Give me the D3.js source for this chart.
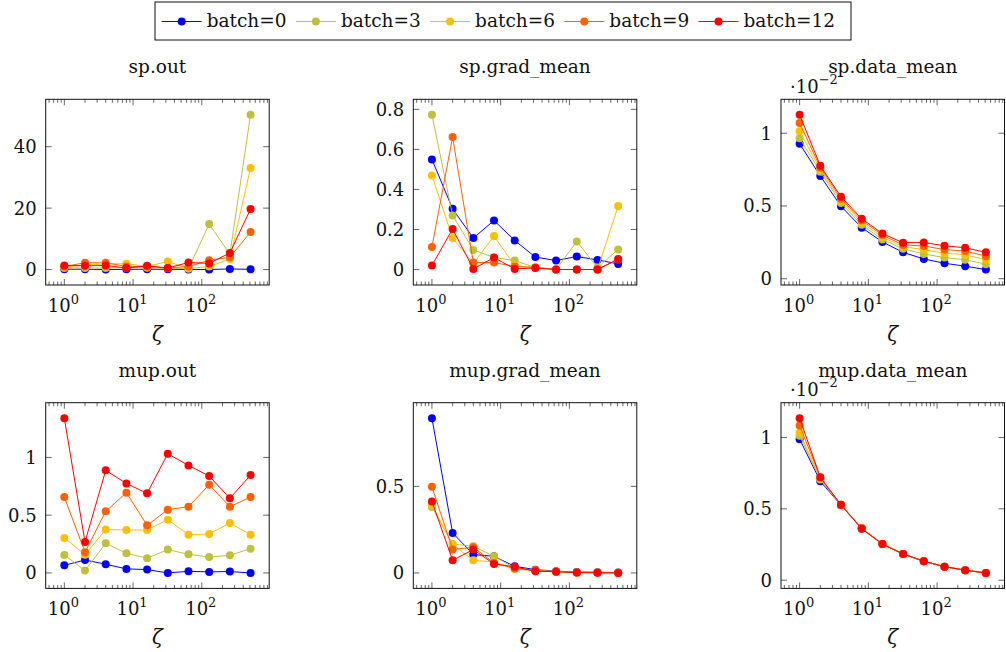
<!DOCTYPE html>
<html>
<head>
<meta charset="utf-8">
<script src="https://cdn.jsdelivr.net/npm/d3@7"></script>
<style>
  body { margin: 0; background: #fff; }
  svg text { font-family: "DejaVu Serif", "Liberation Serif", serif; fill: #111; }
</style>
</head>
<body>
<div id="chart"></div>
<script>
// x values shared by every panel
const ZETA = [1, 2, 4, 8, 16, 32, 64, 128, 256, 512];
const BATCHES = ['batch=0', 'batch=3', 'batch=6', 'batch=9', 'batch=12'];
const COLORS = ['#0000ff', '#bfbf40', '#ffbf00', '#ff6000', '#ff0000'];

// one row per batch (0, 3, 6, 9, 12)
const spOut = [
    [0.1, 0.1, 0, 0.05, 0.1, 0.05, 0, 0, 0.2, 0.05],
    [0.5, 0.5, 0.5, 0.6, 0.6, 0.4, 0.3, 14.8, 5.0, 50.4],
    [0.8, 1.5, 1.8, 1.9, 1.0, 2.6, 0.3, 1.0, 3.4, 33.1],
    [1.0, 2.2, 2.2, 1.0, 1.0, 0.5, 1.0, 3.0, 4.0, 12.2],
    [1.3, 1.2, 1.3, 0.5, 1.2, 0.5, 2.3, 2.0, 5.4, 19.7]
];
const spGrad = [
    [0.55, 0.303, 0.157, 0.245, 0.145, 0.062, 0.045, 0.065, 0.048, 0.028],
    [0.773, 0.27, 0.098, 0.06, 0.045, 0.01, 0.0, 0.14, 0.01, 0.1],
    [0.47, 0.157, 0.03, 0.167, 0.02, 0.01, 0.0, 0.0, 0.0, 0.317],
    [0.112, 0.662, 0.035, 0.035, 0.015, 0.01, 0.0, 0.0, 0.0, 0.05],
    [0.02, 0.203, 0.003, 0.06, 0.003, 0.008, 0.0, 0.0, 0.0, 0.053]
];
const spData = [
    [0.928, 0.706, 0.498, 0.351, 0.253, 0.181, 0.136, 0.106, 0.086, 0.063],
    [0.966, 0.735, 0.52, 0.37, 0.27, 0.205, 0.17, 0.145, 0.13, 0.1],
    [1.013, 0.75, 0.535, 0.385, 0.285, 0.22, 0.2, 0.175, 0.165, 0.13],
    [1.07, 0.765, 0.55, 0.4, 0.3, 0.232, 0.225, 0.2, 0.19, 0.155],
    [1.127, 0.776, 0.563, 0.412, 0.31, 0.247, 0.249, 0.226, 0.213, 0.181]
];
const mupOut = [
    [0.066, 0.112, 0.075, 0.035, 0.029, 0.0, 0.014, 0.009, 0.012, 0.0],
    [0.156, 0.02, 0.256, 0.17, 0.127, 0.202, 0.161, 0.138, 0.153, 0.21],
    [0.303, 0.158, 0.375, 0.372, 0.372, 0.461, 0.331, 0.337, 0.432, 0.331],
    [0.657, 0.18, 0.533, 0.695, 0.412, 0.548, 0.573, 0.764, 0.573, 0.657],
    [1.34, 0.268, 0.888, 0.775, 0.689, 1.032, 0.931, 0.839, 0.646, 0.847]
];
const mupGrad = [
    [0.894, 0.231, 0.106, 0.096, 0.038, 0.019, 0.01, 0.005, 0.004, 0.002],
    [0.381, 0.167, 0.154, 0.096, 0.029, 0.015, 0.008, 0.003, 0.002, 0.001],
    [0.394, 0.163, 0.073, 0.063, 0.023, 0.012, 0.006, 0.002, 0.001, 0.0],
    [0.498, 0.135, 0.148, 0.058, 0.025, 0.015, 0.008, 0.003, 0.002, 0.001],
    [0.413, 0.073, 0.135, 0.052, 0.035, 0.01, 0.007, 0.002, 0.001, 0.0]
];
const mupData = [
    [0.988, 0.693, 0.525, 0.362, 0.253, 0.184, 0.133, 0.095, 0.07, 0.051],
    [1.012, 0.705, 0.526, 0.363, 0.253, 0.184, 0.133, 0.095, 0.07, 0.051],
    [1.033, 0.712, 0.527, 0.364, 0.253, 0.184, 0.133, 0.095, 0.07, 0.051],
    [1.084, 0.72, 0.528, 0.365, 0.253, 0.184, 0.133, 0.095, 0.07, 0.051],
    [1.135, 0.721, 0.528, 0.36, 0.253, 0.184, 0.133, 0.095, 0.07, 0.051]
];

const TITLES = ['sp.out', 'sp.grad_mean', 'sp.data_mean', 'mup.out', 'mup.grad_mean', 'mup.data_mean'];
const Y_TICKS = [
    [0, 20, 40],
    [0, 0.2, 0.4, 0.6, 0.8],
    [0, 0.5, 1],
    [0, 0.5, 1],
    [0, 0.5],
    [0, 0.5, 1]
];
const X_TICKS = [1, 10, 100];

const panels = [
    { title: TITLES[0], data: spOut, ticks: Y_TICKS[0], scaled: false },
    { title: TITLES[1], data: spGrad, ticks: Y_TICKS[1], scaled: false },
    { title: TITLES[2], data: spData, ticks: Y_TICKS[2], scaled: true },
    { title: TITLES[3], data: mupOut, ticks: Y_TICKS[3], scaled: false },
    { title: TITLES[4], data: mupGrad, ticks: Y_TICKS[4], scaled: false },
    { title: TITLES[5], data: mupData, ticks: Y_TICKS[5], scaled: true }
];

const svg = d3.select('#chart').append('svg')
    .attr('width', 1006)
    .attr('height', 652);

const colLeft = [45.7, 413.3, 781];
const rowTop = [99.3, 402.7];
const W = 223.5, H = 185.7;
const MAJOR = 6, MINOR = 3.5;

// log x with pgfplots style 10% enlargement (in log space)
const lx = d3.extent(ZETA, d => Math.log10(d));
const lpad = (lx[1] - lx[0]) * 0.1;
const x = d3.scaleLog()
    .domain([Math.pow(10, lx[0] - lpad), Math.pow(10, lx[1] + lpad)])
    .range([0, W]);

const minorX = [];
for (let k = -1; k <= 2; k++) {
    for (let m = 2; m <= 9; m++) {
        let v = m * Math.pow(10, k);
        if (v >= x.domain()[0] && v <= x.domain()[1]) minorX.push(v);
    }
}

panels.forEach((p, i) => {
    let left = colLeft[i % 3];
    let top = rowTop[Math.floor(i / 3)];
    let g = svg.append('g').attr('transform', `translate(${left},${top})`);

    let all = p.data.flat();
    let ext = d3.extent(all);
    let pad = (ext[1] - ext[0]) * 0.1;
    let y = d3.scaleLinear().domain([ext[0] - pad, ext[1] + pad]).range([H, 0]);

    // ticks (inside, all four sides)
    let tickG = g.append('g').attr('stroke', '#555').attr('stroke-width', 0.9);
    minorX.forEach(v => {
        tickG.append('line').attr('x1', x(v)).attr('x2', x(v)).attr('y1', H).attr('y2', H - MINOR);
        tickG.append('line').attr('x1', x(v)).attr('x2', x(v)).attr('y1', 0).attr('y2', MINOR);
    });
    X_TICKS.forEach(v => {
        tickG.append('line').attr('x1', x(v)).attr('x2', x(v)).attr('y1', H).attr('y2', H - MAJOR);
        tickG.append('line').attr('x1', x(v)).attr('x2', x(v)).attr('y1', 0).attr('y2', MAJOR);
    });
    p.ticks.forEach(v => {
        tickG.append('line').attr('x1', 0).attr('x2', MAJOR).attr('y1', y(v)).attr('y2', y(v));
        tickG.append('line').attr('x1', W).attr('x2', W - MAJOR).attr('y1', y(v)).attr('y2', y(v));
    });

    // series
    let line = d3.line().x((d, j) => x(ZETA[j])).y(d => y(d));
    p.data.forEach((series, s) => {
        g.append('path')
            .datum(series)
            .attr('d', line)
            .attr('fill', 'none')
            .attr('stroke', COLORS[s])
            .attr('stroke-width', 1);
        g.selectAll('.dot-' + s)
            .data(series)
            .enter().append('circle')
            .attr('class', 'dot-' + s)
            .attr('cx', (d, j) => x(ZETA[j]))
            .attr('cy', d => y(d))
            .attr('r', 4)
            .attr('fill', COLORS[s]);
    });

    // frame
    g.append('rect')
        .attr('width', W).attr('height', H)
        .attr('fill', 'none').attr('stroke', '#111').attr('stroke-width', 1);

    // y tick labels
    p.ticks.forEach(v => {
        g.append('text')
            .attr('x', -9).attr('y', y(v)).attr('dy', '0.36em')
            .attr('text-anchor', 'end')
            .attr('font-size', 18)
            .text(d3.format('~g')(v));
    });

    // x tick labels 10^k
    X_TICKS.forEach(v => {
        let t = g.append('text')
            .attr('x', x(v) - 1).attr('y', H + 26.7)
            .attr('text-anchor', 'middle')
            .attr('font-size', 18);
        t.append('tspan').text('10');
        t.append('tspan').attr('font-size', 13).attr('dy', -8).text(Math.round(Math.log10(v)));
    });

    // title and x label
    g.append('text')
        .attr('x', W / 2).attr('y', -26)
        .attr('text-anchor', 'middle')
        .attr('font-size', 18.5)
        .text(p.title);
    g.append('text')
        .attr('x', W / 2).attr('y', H + 56)
        .attr('text-anchor', 'middle')
        .attr('font-size', 20)
        .attr('font-style', 'italic')
        .text('ζ');

    if (p.scaled) {
        let t = g.append('text')
            .attr('x', 9).attr('y', -6.6)
            .attr('font-size', 18);
        t.append('tspan').text('·10');
        t.append('tspan').attr('font-size', 13).attr('dy', -9).text('−2');
    }
});

// legend
const legend = svg.append('g');
legend.append('rect')
    .attr('x', 155).attr('y', 2).attr('width', 696).attr('height', 38)
    .attr('fill', '#fff').attr('stroke', '#111').attr('stroke-width', 1);
BATCHES.forEach((b, i) => {
    let x0 = 161.7 + i * 134.2;
    legend.append('line')
        .attr('x1', x0).attr('x2', x0 + 40).attr('y1', 21.5).attr('y2', 21.5)
        .attr('stroke', COLORS[i]).attr('stroke-width', 1);
    legend.append('circle')
        .attr('cx', x0 + 20).attr('cy', 21.5).attr('r', 4).attr('fill', COLORS[i]);
    legend.append('text')
        .attr('x', x0 + 45).attr('y', 27.3)
        .attr('font-size', 18.5)
        .text(b);
});
</script>
</body>
</html>
